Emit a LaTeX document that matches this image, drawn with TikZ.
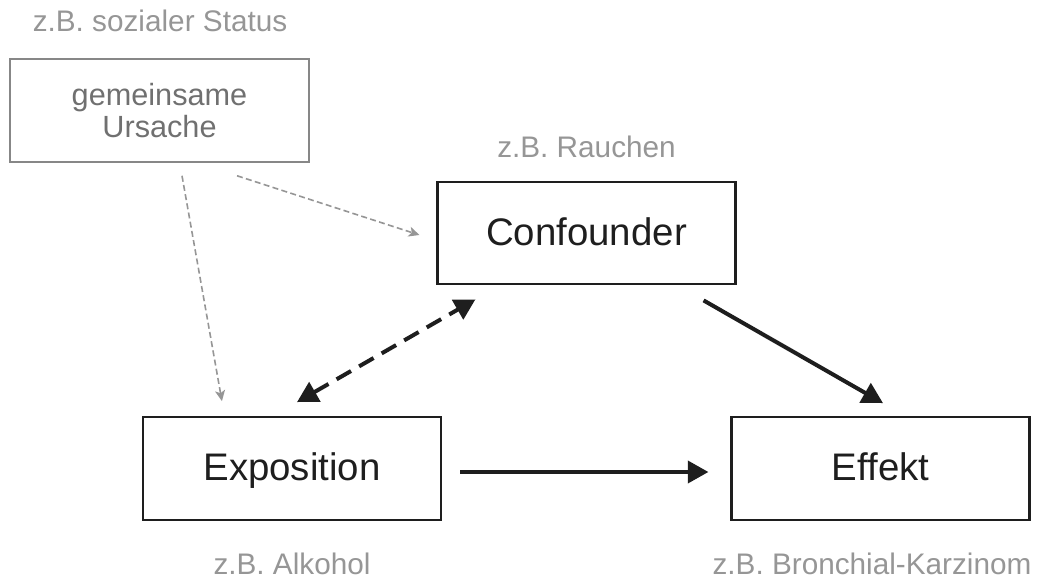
\documentclass[tikz,border=0pt]{standalone}
\usepackage{fontspec}
\setmainfont{Liberation Sans}
\usetikzlibrary{arrows.meta,calc}
\definecolor{boxline}{RGB}{30,30,30}
\definecolor{softgray}{RGB}{150,150,150}
\definecolor{causegray}{RGB}{135,135,135}
\definecolor{causetext}{RGB}{112,112,112}
\begin{document}
\begin{tikzpicture}[x=0.75pt,y=-0.75pt,
  mainbox/.style={draw=boxline,line width=1.6pt,minimum width=223.5pt,minimum height=77pt,
    inner sep=0pt,text=boxline,text height=21pt,text depth=3pt,
    font=\fontsize{28.8}{32}\selectfont},
  causebox/.style={draw=causegray,line width=1.4pt,minimum width=224pt,minimum height=77pt,
    inner sep=0pt,align=center,text=causetext,font=\fontsize{23}{24}\selectfont},
  example/.style={text=softgray,font=\fontsize{22.3}{26}\selectfont,inner sep=0pt,anchor=base},
  strongarrow/.style={draw=boxline,line width=3pt,-{Triangle[length=15.5pt,width=16.5pt]}},
  linkarrow/.style={draw=boxline,line width=3pt,dash pattern=on 12.5pt off 7pt,
    {Triangle[length=15.5pt,width=16.5pt]}-{Triangle[length=15.5pt,width=16.5pt]}},
  causearrow/.style={draw=softgray,line width=1.2pt,dash pattern=on 4.5pt off 2.5pt,
    -{Stealth[length=8pt,width=7.5pt,inset=2pt]}}]
\useasboundingbox (0,0) rectangle (1048,581);

% boxes
\node[causebox] (cause) at (159.5,110.5) {gemeinsame\\Ursache};
\node[mainbox] (conf) at (586.5,233) {Confounder};
\node[mainbox] (expo) at (292,468.5) {Exposition};
\node[mainbox] (eff) at (880.5,468.5) {Effekt};

% example labels
\node[example] (lstatus) at (160,32) {z.B. sozialer Status};
\node[example] (lrauch) at (586.5,157) {z.B. Rauchen};
\node[example] (lalk) at (292,574) {z.B. Alkohol};
\node[example] (lbron) at (872,574) {z.B. Bronchial-Karzinom};

% common cause arrows
\draw[causearrow] ($(cause.south)+(77.5,13)$) -- ($(conf.west)+(-17,2)$);
\draw[causearrow] ($(cause.south)+(22.5,13)$) -- ($(expo.north west)+(80,-15)$);

% confounder relations
\draw[linkarrow] ($(expo.north)+(5,-14)$) -- ($(conf.south west)+(39,14)$);
\draw[strongarrow] ($(conf.south east)+(-33,15)$) -- ($(eff.north)+(2.5,-13)$);
\draw[strongarrow] ($(expo.east)+(18,3.5)$) -- ($(eff.west)+(-22,3.5)$);
\end{tikzpicture}
\end{document}
